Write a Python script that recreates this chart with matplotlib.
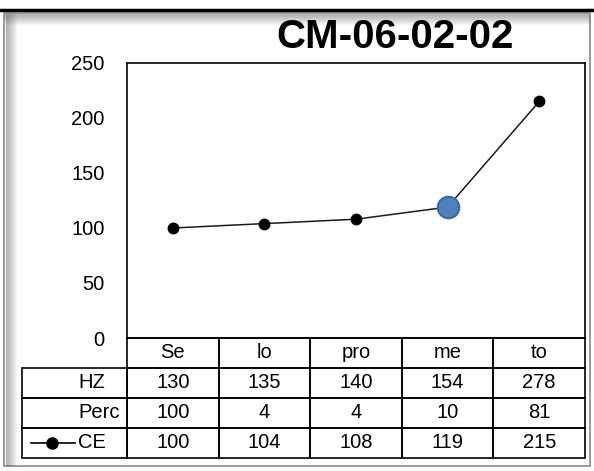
import numpy as np
import matplotlib.pyplot as plt
from matplotlib.patches import Rectangle
from matplotlib.lines import Line2D
from matplotlib import transforms

plt.rcParams['font.family'] = ['Liberation Sans', 'DejaVu Sans']

# Data
title = 'CM-06-02-02'
categories = ['Se', 'lo', 'pro', 'me', 'to']
hz = [130, 135, 140, 154, 278]
perc = [100, 4, 4, 10, 81]
ce = [100, 104, 108, 119, 215]
highlight = 3          # index of the point drawn as a big blue dot
y_ticks = [0, 50, 100, 150, 200, 250]

W, H = 594, 471
FS = 14.5
fig = plt.figure(figsize=(W / 100, H / 100), dpi=100)

# outer frame with a little shadow, as in the screenshot
def px(x0, y0, x1, y1):
    return [x0 / W, 1 - y1 / H, (x1 - x0) / W, (y1 - y0) / H]

fig.add_artist(Line2D([0, 1], [1 - 9.5 / H] * 2, color='black', lw=2.5))
fig.add_artist(Rectangle((4 / W, 1 - 466 / H), 586 / W, 453 / H,
                         fill=False, edgecolor='#8a8a8a', lw=1.2))
for i in range(11):
    a = 0.4 * (1 - i / 11)
    fig.add_artist(Line2D([5 / W, 589 / W], [1 - (14 + i) / H] * 2,
                          color='#606060', alpha=a, lw=1))
    fig.add_artist(Line2D([(6 + i) / W] * 2, [1 - 14 / H, 1 - 465 / H],
                          color='#606060', alpha=a, lw=1))

# plot area
ax = fig.add_axes(px(127, 63, 585, 338))
x = np.arange(len(categories))
ax.plot(x, ce, color='#1a1a1a', lw=1.1, marker='o', markersize=7.5,
        markerfacecolor='black', markeredgecolor='black', zorder=3)
ax.plot(x[highlight], ce[highlight], marker='o', markersize=15.5,
        markerfacecolor='#4f81bd', markeredgecolor='#3a6aa6',
        markeredgewidth=1.5, zorder=4)

ax.set_xlim(-0.5, len(categories) - 0.5)
ax.set_ylim(0, 250)
ax.set_yticks(y_ticks)
ax.set_xticks([])
ax.tick_params(axis='y', length=0, pad=16, labelsize=FS)
for s in ax.spines.values():
    s.set_color('black')
    s.set_linewidth(1.2)

fig.text(395 / W, 1 - 37 / H, title, ha='center', va='center',
         fontsize=29, fontweight='bold')

# data table under the axis: x in data units, y in axes units
blend = transforms.blended_transform_factory(ax.transData, ax.transAxes)
rh = 30 / 275                       # row height in axes units
lab_x0 = (22 - 127) / 458           # left edge of the label column
rows = [('HZ', hz), ('Perc', perc), ('CE', ce)]
lw_t = 1.2

# header row
for i, c in enumerate(categories):
    ax.add_patch(Rectangle((i - 0.5, -rh), 1, rh, transform=blend,
                           fill=False, edgecolor='black', lw=lw_t,
                           clip_on=False))
    ax.text(i, -rh / 2, c, transform=blend, ha='center', va='center',
            fontsize=FS, clip_on=False)

for r, (name, vals) in enumerate(rows):
    y0 = -rh * (r + 2)
    ax.add_patch(Rectangle((lab_x0, y0), -lab_x0, rh, transform=ax.transAxes,
                           fill=False, edgecolor='black', lw=lw_t,
                           clip_on=False))
    ax.text((78 - 127) / 458, y0 + rh / 2, name, transform=ax.transAxes,
            ha='left', va='center', fontsize=FS, clip_on=False)
    for i, v in enumerate(vals):
        ax.add_patch(Rectangle((i - 0.5, y0), 1, rh, transform=blend,
                               fill=False, edgecolor='black', lw=lw_t,
                               clip_on=False))
        ax.text(i, y0 + rh / 2, str(v), transform=blend, ha='center',
                va='center', fontsize=FS, clip_on=False)

# legend key in the CE label cell
yk = -rh * 4 + rh / 2
ax.add_line(Line2D([(31 - 127) / 458, (75 - 127) / 458], [yk, yk],
                   transform=ax.transAxes, color='black', lw=1.2,
                   clip_on=False))
ax.add_line(Line2D([(52 - 127) / 458], [yk], transform=ax.transAxes,
                   marker='o', markersize=8, color='black', clip_on=False))

fig.savefig('out.png', dpi=100)
